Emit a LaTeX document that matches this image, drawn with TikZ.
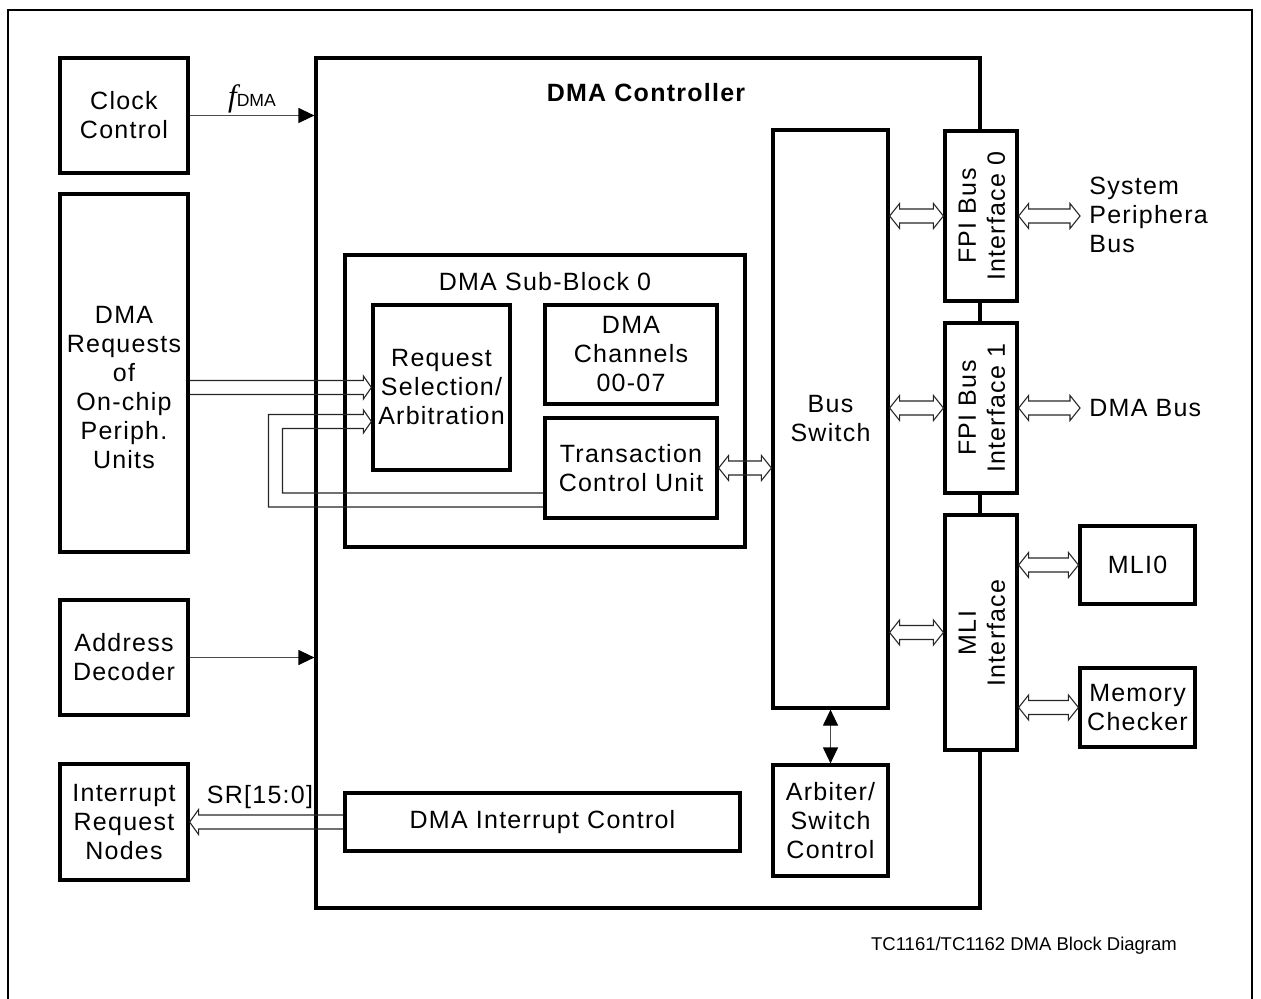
\documentclass[tikz,border=0pt]{standalone}
\usepackage{fontspec}
\setmainfont{Liberation Sans}[LetterSpace=5]
\newfontfamily\capfont{Liberation Sans}
\newfontfamily\tnr{Liberation Serif}
\usetikzlibrary{arrows.meta,calc}
\newcommand\txt{\fontsize{12.5}{14.5}\selectfont}
\tikzset{
  blk/.style={draw, line width=1.6pt, fill=white, inner sep=0pt, align=center, font=\txt},
  lbl/.style={inner sep=0pt, align=center, font=\txt},
  frame/.style={line width=1.1pt},
  hollow/.style={draw=black!85, line width=0.55pt},
  thinarr/.style={draw=black!70, line width=0.6pt, -{Triangle[length=8pt,width=7.5pt,black]}},
  thindbl/.style={draw=black!70, line width=0.6pt, {Triangle[length=8pt,width=7.5pt,black]}-{Triangle[length=8pt,width=7.5pt,black]}}
}
% double-headed hollow arrow, horizontal, y taken from first point
\newcommand\hdbl[2]{\draw[hollow] let \p1=#1, \p2=#2 in
  (\x1,\y1) -- (\x1+5pt,\y1+6.25pt) -- (\x1+5pt,\y1+3.5pt) -- (\x2-5pt,\y1+3.5pt) -- (\x2-5pt,\y1+6.25pt) -- (\x2,\y1)
  -- (\x2-5pt,\y1-6.25pt) -- (\x2-5pt,\y1-3.5pt) -- (\x1+5pt,\y1-3.5pt) -- (\x1+5pt,\y1-6.25pt) -- cycle;}
% single hollow arrow, tip to the right at #2
\newcommand\harrR[2]{\draw[hollow] let \p1=#1, \p2=#2 in
  (\x1,\y2+3.5pt) -- (\x2-4pt,\y2+3.5pt) -- (\x2-4pt,\y2+5.75pt) -- (\x2,\y2) -- (\x2-4pt,\y2-5.75pt) -- (\x2-4pt,\y2-3.5pt) -- (\x1,\y2-3.5pt);}
% single hollow arrow, tip to the left at #2
\newcommand\harrL[2]{\draw[hollow] let \p1=#1, \p2=#2 in
  (\x1,\y2+3.5pt) -- (\x2+4.5pt,\y2+3.5pt) -- (\x2+4.5pt,\y2+6.25pt) -- (\x2,\y2) -- (\x2+4.5pt,\y2-6.25pt) -- (\x2+4.5pt,\y2-3.5pt) -- (\x1,\y2-3.5pt);}
\begin{document}
\begin{tikzpicture}[x=0.5pt,y=-0.5pt]
\useasboundingbox (0,0) rectangle (1261,999);
\draw[frame] (8,999) -- (8,10) -- (1252,10) -- (1252,999);

% main controller
\node[blk, minimum width=332pt, minimum height=425pt] (dma) at (648,483) {};
\node[lbl, font=\txt\bfseries] (dmat) at (646,93) {DMA Controller};

% left column
\node[blk, minimum width=64pt, minimum height=57.5pt] (clk) at (124,115.5) {Clock\\Control};
\node[blk, minimum width=64pt, minimum height=179pt] (req) at (124,373) {};
\node[lbl] (reqt) at (124,388) {DMA\\Requests\\of\\On-chip\\Periph.\\Units};
\node[blk, minimum width=64pt, minimum height=57.5pt] (addr) at (124,657.5) {Address\\Decoder};
\node[blk, minimum width=64pt, minimum height=58pt] (intr) at (124,822) {Interrupt\\Request\\Nodes};

% sub-block
\node[blk, minimum width=200pt, minimum height=146pt] (sub) at (545,401) {};
\node[lbl] (subt) at (545,282) {DMA Sub-Block 0};
\node[blk, minimum width=68.5pt, minimum height=82.5pt] (rsel) at (441.5,387.5) {Request\\Selection/\\Arbitration};
\node[blk, minimum width=86pt, minimum height=49.5pt] (chan) at (631,354.5) {DMA\\Channels\\00-07};
\node[blk, minimum width=86pt, minimum height=50pt] (tcu) at (631,468) {Transaction\\Control Unit};

% bus switch and arbiter
\node[blk, minimum width=57.5pt, minimum height=289pt] (bsw) at (830.5,419) {Bus\\Switch};
\node[blk, minimum width=57.5pt, minimum height=55.5pt] (arb) at (830.5,820.5) {Arbiter/\\Switch\\Control};

% interrupt control
\node[blk, minimum width=197.5pt, minimum height=29pt] (dic) at (542.5,822) {DMA Interrupt Control};

% interfaces
\node[blk, minimum width=36pt, minimum height=85pt] (fpi0) at (981,216) {};
\node[lbl, rotate=90] (fpi0t) at (982,216) {FPI Bus\\Interface 0};
\node[blk, minimum width=36pt, minimum height=85pt] (fpi1) at (981,408) {};
\node[lbl, rotate=90] (fpi1t) at (982,408) {FPI Bus\\Interface 1};
\node[blk, minimum width=36pt, minimum height=117.5pt] (mli) at (981,632.5) {};
\node[lbl, rotate=90] (mlit) at (982,633) {MLI\\Interface};

% right side
\node[blk, minimum width=57.5pt, minimum height=39pt] (mli0) at (1137.5,565) {MLI0};
\node[blk, minimum width=57.5pt, minimum height=39.5pt] (memc) at (1137.5,707.5) {Memory\\Checker};
\coordinate (spb) at (1080,216);
\coordinate (dmab) at (1080,408);
\node[lbl, anchor=west, align=left] (spbt) at (1089,215) {System\\Periphera\\Bus};
\node[lbl, anchor=west] (dmabt) at (1089,408) {DMA Bus};

% thin arrows
\draw[thinarr] (clk.east) -- (clk.east -| dma.west);
\node[inner sep=0pt, anchor=base] (fdma) at (252,107) {{\tnr\itshape\fontsize{15.5}{16}\selectfont f}{\capfont\fontsize{8.8}{9}\selectfont DMA}};
\draw[thinarr] (addr.east) -- (addr.east -| dma.west);
\draw[thindbl] (bsw.south) -- (arb.north);

% hollow arrows
\harrR{(req.east)}{(rsel.west)}
\coordinate (fbturn) at (275.5,0);
\draw[hollow] let \p1=(tcu.west), \p2=(rsel.west), \p3=(fbturn) in
  (\x1,\y1-19.5pt) -- (\x3-3.5pt,\y1-19.5pt) -- (\x3-3.5pt,\y2-13.5pt) -- (\x2-4pt,\y2-13.5pt) -- (\x2-4pt,\y2-11.25pt)
  -- (\x2,\y2-17pt) -- (\x2-4pt,\y2-22.75pt) -- (\x2-4pt,\y2-20.5pt) -- (\x3+3.5pt,\y2-20.5pt) -- (\x3+3.5pt,\y1-12.5pt) -- (\x1,\y1-12.5pt);
\hdbl{(tcu.east)}{(bsw.west)}
\hdbl{(bsw.east |- fpi0)}{(fpi0.west)}
\hdbl{(bsw.east |- fpi1)}{(fpi1.west)}
\hdbl{(bsw.east |- mli)}{(mli.west)}
\hdbl{(fpi0.east)}{(spb)}
\hdbl{(fpi1.east)}{(dmab)}
\hdbl{(mli.east |- mli0)}{(mli0.west)}
\hdbl{(mli.east |- memc)}{(memc.west)}
\harrL{(dic.west)}{(intr.east |- dic)}
\node[lbl] (srt) at (260,797) {SR[15:0]};

% caption
\node[inner sep=0pt, font=\capfont\fontsize{9.25}{11}\selectfont] (cap) at (1024,946) {TC1161/TC1162 DMA Block Diagram};
\end{tikzpicture}
\end{document}
